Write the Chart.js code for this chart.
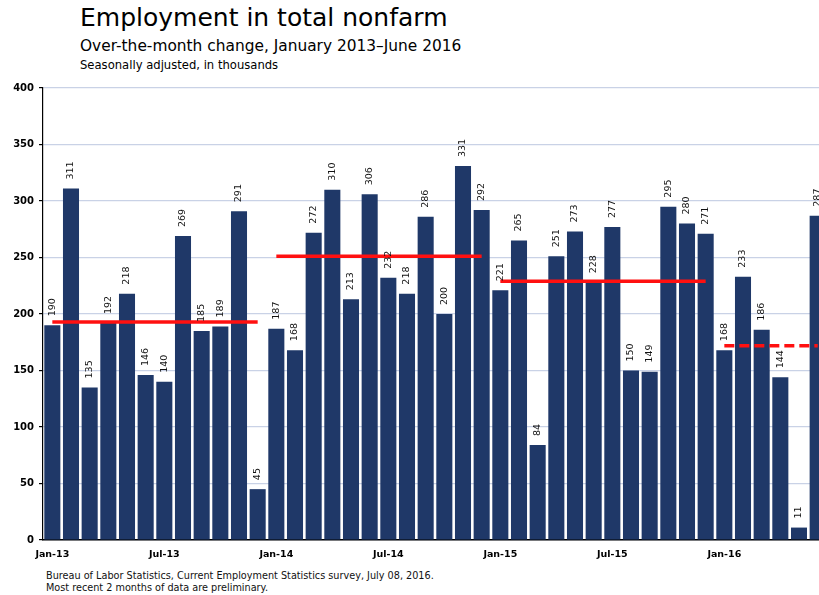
<!DOCTYPE html>
<html>
<head>
<meta charset="utf-8">
<script src="https://cdn.jsdelivr.net/npm/chart.js@4/dist/chart.umd.min.js"></script>
<style>
  html, body { margin:0; padding:0; background:#fff; overflow:hidden; width:819px; height:595px; }
  body { position:relative; font-family:"DejaVu Sans", sans-serif; color:#000; }
  .t1 { position:absolute; left:80px; top:3px; font-size:25px; line-height:30px; white-space:nowrap; }
  .t2 { position:absolute; left:80px; top:37px; font-size:15.4px; line-height:18px; white-space:nowrap; }
  .t3 { position:absolute; left:80px; top:58px; font-size:11.6px; line-height:14px; white-space:nowrap; }
  .foot { position:absolute; left:46px; top:570px; font-size:9.7px; line-height:12px; white-space:nowrap; color:#111; }
  #wrap { position:absolute; left:0; top:77px; width:830px; height:488px; }
</style>
</head>
<body>
<div class="t1">Employment in total nonfarm</div>
<div class="t2">Over-the-month change, January 2013–June 2016</div>
<div class="t3">Seasonally adjusted, in thousands</div>
<div id="wrap"><canvas id="c"></canvas></div>
<div class="foot">Bureau of Labor Statistics, Current Employment Statistics survey, July 08, 2016.<br>Most recent 2 months of data are preliminary.</div>
<script>
// months Jan-13 .. Jun-16
const months = [
  "Jan-13","Feb-13","Mar-13","Apr-13","May-13","Jun-13","Jul-13","Aug-13","Sep-13","Oct-13","Nov-13","Dec-13",
  "Jan-14","Feb-14","Mar-14","Apr-14","May-14","Jun-14","Jul-14","Aug-14","Sep-14","Oct-14","Nov-14","Dec-14",
  "Jan-15","Feb-15","Mar-15","Apr-15","May-15","Jun-15","Jul-15","Aug-15","Sep-15","Oct-15","Nov-15","Dec-15",
  "Jan-16","Feb-16","Mar-16","Apr-16","May-16","Jun-16"
];
const changes = [
  190,311,135,192,218,146,140,269,185,189,291,45,
  187,168,272,310,213,306,232,218,286,200,331,292,
  221,265,84,251,273,228,277,150,149,295,280,271,
  168,233,186,144,11,287
];
// yearly averages (red lines)
const years = ["2013","2014","2015","2016"];
const yearAvg = [193, 251, 229, 172];
const yearStart = [0, 12, 24, 36];
const yearEnd = [11, 23, 35, 41];
const shownTicks = ["Jan-13","Jul-13","Jan-14","Jul-14","Jan-15","Jul-15","Jan-16"];

function avgLine(k){
  return months.map((m,i)=> (i>=yearStart[k] && i<=yearEnd[k]) ? yearAvg[k] : null);
}

const valueLabels = {
  id:"valueLabels",
  afterDatasetsDraw(chart){
    const ctx = chart.ctx;
    const meta = chart.getDatasetMeta(0);
    ctx.save();
    ctx.font = "9.5px 'DejaVu Sans'";
    ctx.fillStyle = "#111";
    ctx.textAlign = "left";
    ctx.textBaseline = "middle";
    meta.data.forEach((bar,i)=>{
      ctx.save();
      ctx.translate(bar.x, bar.y - 9);
      ctx.rotate(-Math.PI/2);
      ctx.fillText(String(changes[i]), 0, 0);
      ctx.restore();
    });
    ctx.restore();
  }
};

const lineSets = years.map((y,k)=>({
  type:"line",
  label:y,
  data:avgLine(k),
  borderColor:"#ff1010",
  borderWidth:3.5,
  borderDash: k===3 ? [10,5] : [],
  pointRadius:0,
  spanGaps:false,
  order:0
}));

new Chart(document.getElementById("c"), {
  type:"bar",
  data:{
    labels:months,
    datasets:[{
      label:"Over-the-month change",
      data:changes,
      backgroundColor:"#1f3868",
      barPercentage:0.86,
      categoryPercentage:1,
      order:1
    }, ...lineSets]
  },
  options:{
    responsive:true,
    maintainAspectRatio:false,
    animation:false,
    layout:{ padding:{ top:4, right:3, left:0, bottom:0 } },
    plugins:{ legend:{display:false}, tooltip:{enabled:false}, title:{display:false} },
    scales:{
      x:{
        grid:{ display:false },
        border:{ display:true, color:"#000", width:1.5 },
        ticks:{
          autoSkip:false, maxRotation:0, minRotation:0, padding:1,
          color:"#000",
          font:{ family:"DejaVu Sans", size:9.5, weight:"bold" },
          callback(v,i){ return shownTicks.includes(months[i]) ? months[i] : ""; }
        },
        afterFit(s){ s.height = 25; }
      },
      y:{
        min:0, max:400,
        ticks:{ stepSize:50, padding:5, color:"#000", font:{ family:"DejaVu Sans", size:10, weight:"bold" } },
        grid:{ color:"#c9d2e6", lineWidth:1.2, tickColor:"#000", tickLength:4 },
        border:{ display:true, color:"#000", width:1.2 },
        afterFit(s){ s.width = 43; }
      }
    }
  },
  plugins:[valueLabels]
});
</script>
</body>
</html>
